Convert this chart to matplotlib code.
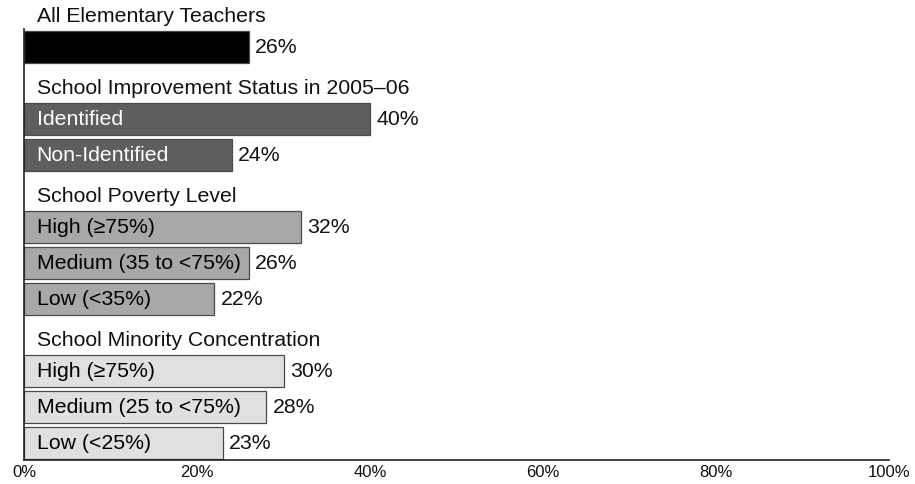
import matplotlib
matplotlib.use("Agg")
import matplotlib.pyplot as plt

plt.rcParams['font.family'] = ['Liberation Sans', 'DejaVu Sans']

# Data
group_titles = ["All Elementary Teachers",
                "School Improvement Status in 2005–06",
                "School Poverty Level",
                "School Minority Concentration"]
group_labels = [[""],
                ["Identified", "Non-Identified"],
                ["High (\u226575%)", "Medium (35 to <75%)", "Low (<35%)"],
                ["High (\u226575%)", "Medium (25 to <75%)", "Low (<25%)"]]
group_values = [[26],
                [40, 24],
                [32, 26, 22],
                [30, 28, 23]]
group_colors = ["#000000", "#5e5e5e", "#a8a8a8", "#e0e0e0"]
group_text_colors = ["white", "white", "black", "black"]
tick_values = [0, 20, 40, 60, 80, 100]
tick_labels = ["0%", "20%", "40%", "60%", "80%", "100%"]

W, H = 915, 485
fig = plt.figure(figsize=(W / 100, H / 100), dpi=100)
ax_bottom_px = 461
ax = fig.add_axes([24 / W, (H - ax_bottom_px) / H, 865 / W, ax_bottom_px / H])
ax.set_xlim(0, 100)
ax.set_ylim(ax_bottom_px, 0)

# layout (pixel-based rows)
y = 17.0
bar_h = 32
fs = 15.3
for title, labels, vals, col, tcol in zip(group_titles, group_labels, group_values,
                                          group_colors, group_text_colors):
    ax.text(1.45, y, title, fontsize=fs, va='center', ha='left', color='#111111')
    yb = y + 30.5
    for lab, v in zip(labels, vals):
        ax.barh(yb, v, height=bar_h, color=col, edgecolor='#4a4a4a', linewidth=0.9)
        if lab:
            ax.text(1.45, yb, lab, fontsize=fs, va='center', ha='left', color=tcol)
        ax.annotate(f"{v}%", (v, yb), xytext=(4.5, 0), textcoords='offset points',
                    fontsize=fs, va='center', ha='left', color='#111111')
        last = yb
        yb += 36
    y = last + 41.5

for s in ['top', 'right']:
    ax.spines[s].set_visible(False)
ax.spines['left'].set_bounds(ax_bottom_px, 30)
ax.spines['left'].set_color('#222222')
ax.spines['bottom'].set_color('#222222')
ax.spines['left'].set_linewidth(1.2)
ax.spines['bottom'].set_linewidth(1.2)
ax.set_yticks([])
ax.set_xticks(tick_values)
ax.set_xticklabels(tick_labels, fontsize=12, color='#111111')
ax.tick_params(axis='x', length=0, pad=3)

fig.savefig("out.png", dpi=100)
